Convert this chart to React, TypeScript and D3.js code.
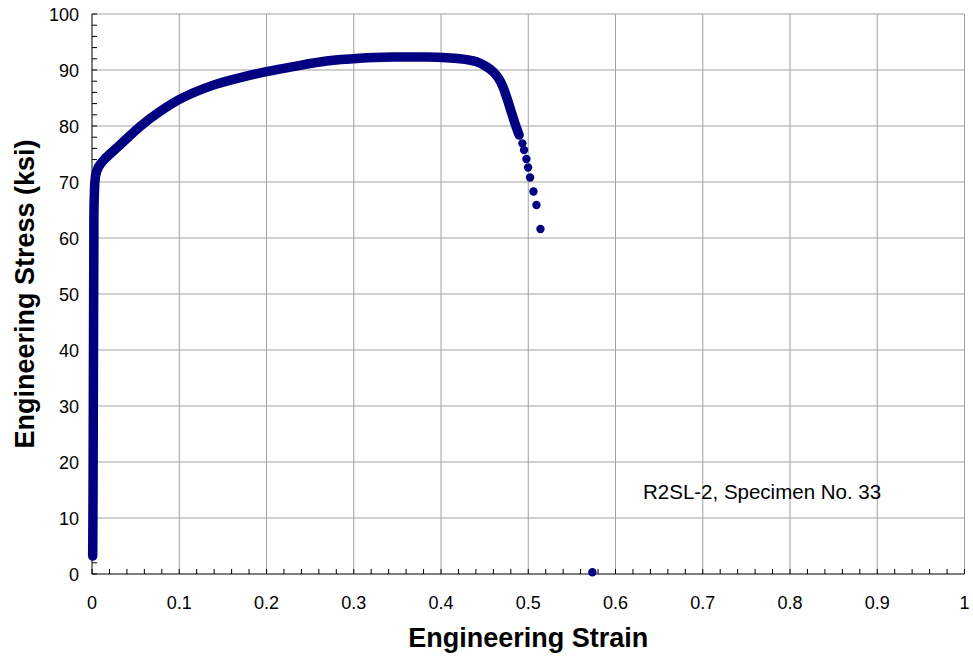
import * as d3 from 'd3';

// dense part of the test record
const bandStrain = [0.0008, 0.0012, 0.0015, 0.0018, 0.0021, 0.0025, 0.0042, 0.0075, 0.014, 0.032, 0.055, 0.078, 0.1008, 0.139, 0.177, 0.2, 0.2306, 0.2688, 0.307, 0.345, 0.383, 0.4215, 0.44, 0.452, 0.4597, 0.466, 0.471, 0.4755, 0.48, 0.4845, 0.4895];
const bandStress = [3.2, 15, 30, 45, 58, 66.8, 71.2, 72.7, 74.0, 76.6, 79.9, 82.6, 84.8, 87.3, 88.9, 89.7, 90.6, 91.6, 92.1, 92.3, 92.3, 92.0, 91.5, 90.6, 89.7, 88.5, 87.0, 85.0, 82.8, 80.6, 78.4];

// separated readings near necking and fracture
const dotStrain = [0.4933, 0.4952, 0.4979, 0.4998, 0.5021, 0.506, 0.5094, 0.514, 0.5735];
const dotStress = [76.9, 75.7, 74.1, 72.6, 70.8, 68.3, 65.9, 61.6, 0.3];

const xTicks = [0, 0.1, 0.2, 0.3, 0.4, 0.5, 0.6, 0.7, 0.8, 0.9, 1];
const yTicks = [0, 10, 20, 30, 40, 50, 60, 70, 80, 90, 100];
const xMinor = d3.range(0, 1.0001, 0.02);
const yMinor = d3.range(0, 100.001, 2);

const font = '"Liberation Sans", Arial, sans-serif';
const navy = '#000080';

export default function App() {
  const width = 973;
  const height = 659;
  const margin = { top: 14, right: 8, bottom: 85, left: 92 };

  const x = d3.scaleLinear().domain([0, 1]).range([margin.left, width - margin.right - 0.5]);
  const y = d3.scaleLinear().domain([0, 100]).range([height - margin.bottom, margin.top]);

  const band = bandStrain.map((s, i) => [s, bandStress[i]] as [number, number]);
  const line = d3.line<[number, number]>()
    .x(d => x(d[0]))
    .y(d => y(d[1]))
    .curve(d3.curveCatmullRom.alpha(0.5));

  const x0 = x(0);
  const y0 = y(0);

  return (
    <svg width={width} height={height} style={{ position: 'absolute', left: 0, top: 0, background: '#fff' }}>
      {/* grid */}
      <g stroke="#a0a0a0" strokeWidth={1}>
        {xTicks.slice(1).map(t => (
          <line key={'gx' + t} x1={x(t)} x2={x(t)} y1={y(0)} y2={y(100)} />
        ))}
        {yTicks.slice(1).map(t => (
          <line key={'gy' + t} x1={x(0)} x2={x(1)} y1={y(t)} y2={y(t)} />
        ))}
      </g>

      {/* axes */}
      <g stroke="#000" strokeWidth={1}>
        <line x1={x0} x2={x(1)} y1={y0} y2={y0} />
        <line x1={x0} x2={x0} y1={y0} y2={y(100)} />
        {xMinor.map(t => (
          <line key={'tx' + t} x1={x(t)} x2={x(t)} y1={y0} y2={y0 - 5} />
        ))}
        {yMinor.map(t => (
          <line key={'ty' + t} x1={x0} x2={x0 + 5} y1={y(t)} y2={y(t)} />
        ))}
      </g>

      {/* data */}
      <path d={line(band) ?? ''} fill="none" stroke={navy} strokeWidth={9.5} strokeLinecap="round" strokeLinejoin="round" />
      {dotStrain.map((s, i) => (
        <circle key={'d' + i} cx={x(s)} cy={y(dotStress[i])} r={4.2} fill={navy} />
      ))}

      {/* tick labels */}
      <g fontFamily={font} fontSize={18} fill="#000">
        {xTicks.map(t => (
          <text key={'lx' + t} x={x(t)} y={y0 + 35} textAnchor="middle">{String(t)}</text>
        ))}
        {yTicks.map(t => (
          <text key={'ly' + t} x={x0 - 13} y={y(t) + 6.5} textAnchor="end">{String(t)}</text>
        ))}
      </g>

      <text x={643} y={499} fontFamily={font} fontSize={20.5} fill="#000">R2SL-2, Specimen No. 33</text>

      <text x={(x(0) + x(1)) / 2} y={647} fontFamily={font} fontSize={27} fontWeight="bold" textAnchor="middle">Engineering Strain</text>
      <text transform={`translate(34,${(y(0) + y(100)) / 2}) rotate(-90)`} fontFamily={font} fontSize={27} fontWeight="bold" textAnchor="middle">Engineering Stress (ksi)</text>
    </svg>
  );
}
